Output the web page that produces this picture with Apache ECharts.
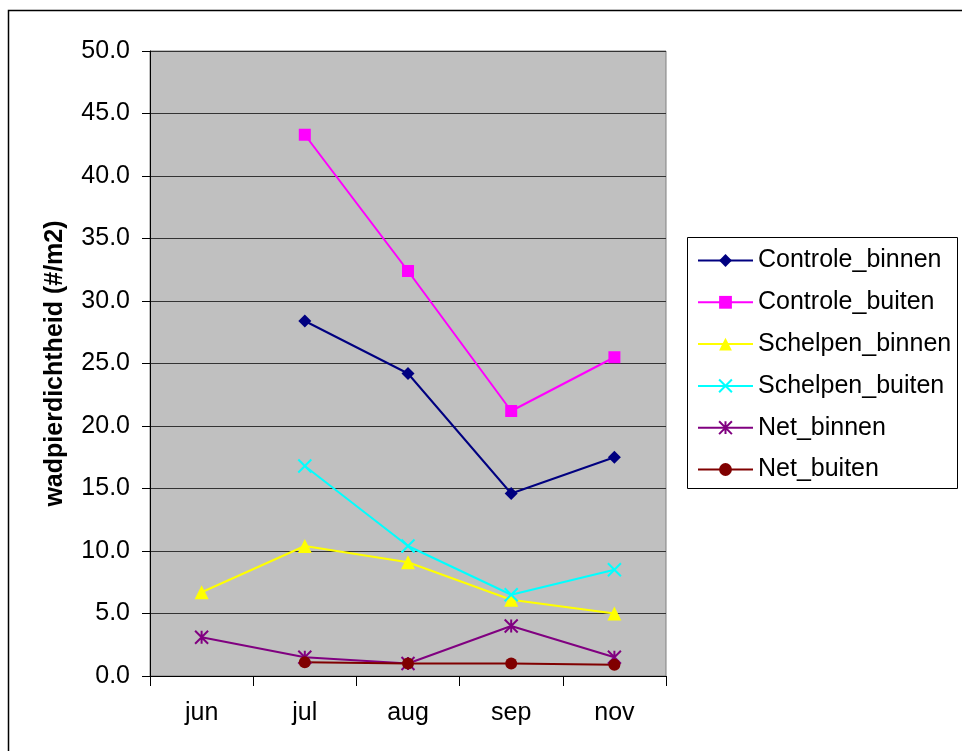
<!DOCTYPE html>
<html>
<head>
<meta charset="utf-8">
<script src="https://cdn.jsdelivr.net/npm/echarts@6/dist/echarts.min.js"></script>
<style>
html,body{margin:0;padding:0;background:#fff;}
#c{width:962px;height:751px;}
</style>
</head>
<body>
<div id="c"></div>
<script>
const categories = ['jun', 'jul', 'aug', 'sep', 'nov'];
const controleBinnen = [null, 28.4, 24.2, 14.6, 17.5];
const controleBuiten = [null, 43.3, 32.4, 21.2, 25.5];
const schelpenBinnen = [6.7, 10.4, 9.1, 6.1, 5.0];
const schelpenBuiten = [null, 16.8, 10.4, 6.5, 8.5];
const netBinnen = [3.1, 1.5, 1.0, 4.0, 1.5];
const netBuiten = [null, 1.1, 1.0, 1.0, 0.9];
const yTicks = [0, 5, 10, 15, 20, 25, 30, 35, 40, 45, 50];

const FONT = '"Liberation Sans", Arial, sans-serif';
const FS = 25;
const crossPath = 'path://M0,0 L10,10 M10,0 L0,10';
const starPath = 'path://M5,0 L5,10 M0,0 L10,10 M10,0 L0,10';

function mk(name, data, color, symbol, size, stroked) {
  return {
    name: name,
    type: 'line',
    data: data,
    symbol: symbol,
    symbolSize: size,
    showAllSymbol: true,
    lineStyle: { color: color, width: 2 },
    itemStyle: stroked ? { color: 'none', borderColor: color, borderWidth: 2 } : { color: color, borderColor: color, borderWidth: 0 },
    emphasis: { disabled: true },
    animation: false
  };
}

const chart = echarts.init(document.getElementById('c'), null, { renderer: 'canvas' });
chart.setOption({
  animation: false,
  backgroundColor: '#ffffff',
  textStyle: { fontFamily: FONT },
  graphic: [
    { type: 'rect', shape: { x: 8.5, y: 10.5, width: 1000, height: 800 }, style: { fill: 'none', stroke: '#000', lineWidth: 1.5 }, z: 100 },
    { type: 'rect', shape: { x: 687.5, y: 237.5, width: 270, height: 251 }, style: { fill: '#fff', stroke: '#000', lineWidth: 1 }, z: -1 }
  ],
  grid: {
    left: 150, top: 51, width: 516, height: 625,
    show: true, backgroundColor: '#c0c0c0', borderColor: '#808080', borderWidth: 1
  },
  legend: {
    orient: 'vertical',
    left: 697, top: 248,
    padding: 0,
    itemWidth: 55, itemHeight: 16,
    itemGap: 16.8,
    textStyle: { fontSize: FS, fontFamily: FONT, color: '#000', lineHeight: 25 },
    data: ['Controle_binnen', 'Controle_buiten', 'Schelpen_binnen', 'Schelpen_buiten', 'Net_binnen', 'Net_buiten']
  },
  xAxis: {
    type: 'category',
    data: categories,
    boundaryGap: true,
    axisLine: { lineStyle: { color: '#000', width: 1 } },
    axisTick: { show: true, length: 10, inside: false, lineStyle: { color: '#000' } },
    axisLabel: { fontSize: FS, color: '#000', fontFamily: FONT, margin: 25 },
    splitLine: { show: false }
  },
  yAxis: {
    type: 'value',
    min: yTicks[0], max: yTicks[yTicks.length - 1], interval: 5,
    name: 'wadpierdichtheid (#/m2)',
    nameLocation: 'middle',
    nameGap: 82,
    nameTextStyle: { fontSize: FS, fontWeight: 'bold', color: '#000', fontFamily: FONT },
    axisLine: { show: true, lineStyle: { color: '#000', width: 1 } },
    axisTick: { show: true, length: 8, lineStyle: { color: '#000' } },
    axisLabel: { fontSize: FS, color: '#000', fontFamily: FONT, margin: 20, formatter: v => v.toFixed(1) },
    splitLine: { show: true, lineStyle: { color: '#333333', width: 1 } }
  },
  series: [
    mk('Controle_binnen', controleBinnen, '#000080', 'diamond', 13, false),
    mk('Controle_buiten', controleBuiten, '#ff00ff', 'rect', 12, false),
    mk('Schelpen_binnen', schelpenBinnen, '#ffff00', 'triangle', 14, false),
    mk('Schelpen_buiten', schelpenBuiten, '#00ffff', crossPath, 13, true),
    mk('Net_binnen', netBinnen, '#800080', starPath, 13, true),
    mk('Net_buiten', netBuiten, '#800000', 'circle', 12, false)
  ]
});
</script>
</body>
</html>
